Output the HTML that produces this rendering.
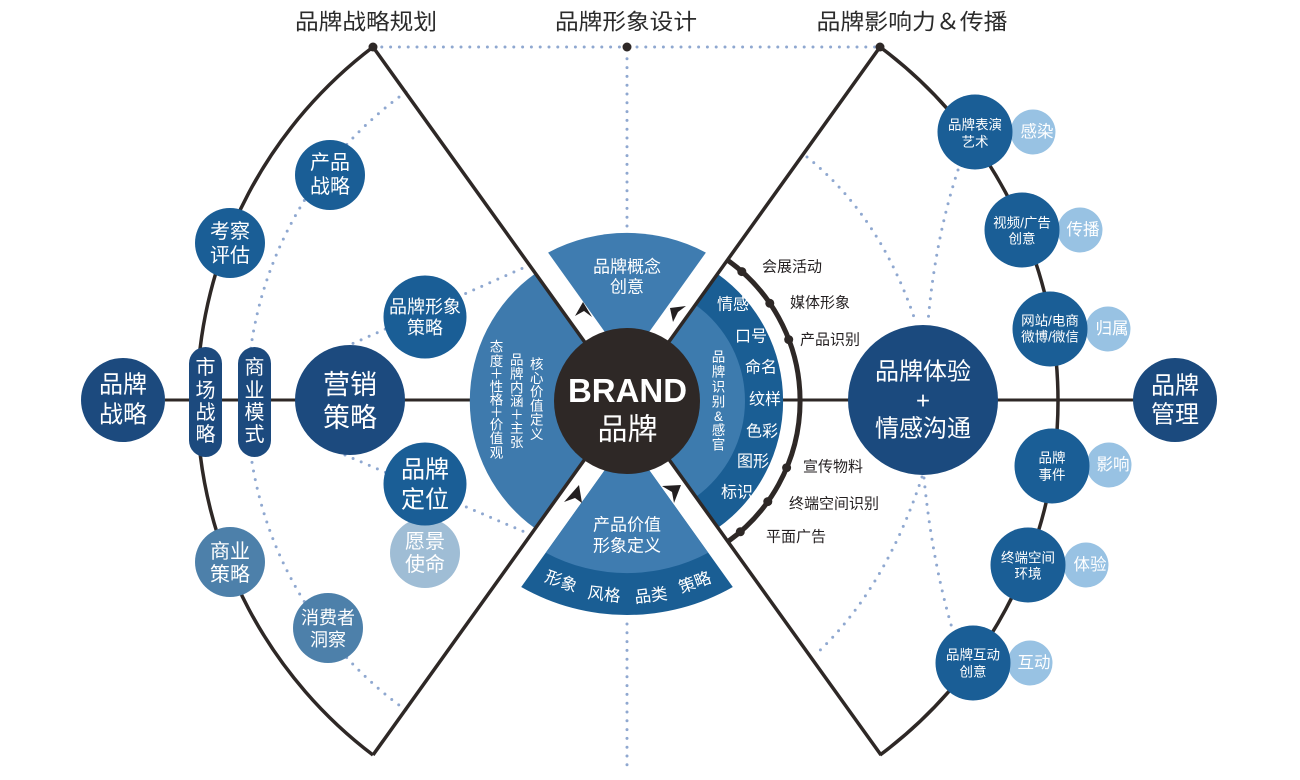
<!DOCTYPE html>
<html><head><meta charset="utf-8"><style>
html,body{margin:0;padding:0;background:#fff;}
svg{display:block;}
text{font-family:"Liberation Sans","Noto Sans CJK SC",sans-serif;}
</style></head><body>
<svg width="1300" height="780" viewBox="0 0 1300 780" xmlns="http://www.w3.org/2000/svg">
<rect width="1300" height="780" fill="#fff"/>

<!-- dotted lines -->
<g fill="none" stroke="#8fa8d0" stroke-width="3" stroke-dasharray="0 8.8" stroke-linecap="round">
  <path d="M373,47 L880,47"/>
  <path d="M627,50 L627,232"/>
  <path d="M627,624 L627,772"/>
  <path d="M406,92 A380,380 0 0 0 410,713"/>
  <path d="M345,347 L523,268"/>
  <path d="M345,455 L527,533"/>
  <path d="M807,157 Q880,216 915,320"/>
  <path d="M958,170 Q935,240 928,322"/>
  <path d="M922,477 Q885,590 815,655"/>
  <path d="M924,478 Q932,560 952,628"/>
</g>

<!-- solid outer arcs & axis -->
<g fill="none" stroke="#2e2826" stroke-width="3.5">
  <path d="M373,47 A444,444 0 0 0 373,755"/>
  <path d="M880,47 A441,441 0 0 1 880,755"/>
  <path d="M165,400 L1134,400" stroke-width="3"/>
</g>

<!-- wedges -->
<path d="M627,401 L535.6,528.8 A157,157 0 0 1 535.6,273.2 Z" fill="#3e7aad"/>
<path d="M627,401 L717.7,274 A156,156 0 0 1 717.7,528 Z" fill="#1a5e94"/>
<path d="M627,401 L695.6,305 A118,118 0 0 1 695.6,497 Z" fill="#3d7bae"/>
<path d="M627,363 L548.1,252.6 A168,168 0 0 1 705.9,252.6 Z" fill="#3f7cb0"/>
<path d="M627,439 L521.2,587 A214,214 0 0 0 732.8,587 Z" fill="#1a5e94"/>
<path d="M627,439 L545.8,552.7 A172,172 0 0 0 708.2,552.7 Z" fill="#3f7cb0"/>

<!-- X lines -->
<g stroke="#2e2826" stroke-width="3.5">
  <line x1="373" y1="47" x2="881" y2="755"/>
  <line x1="880" y1="47" x2="373" y2="755"/>
</g>

<!-- ring -->
<path d="M727.6,260.2 A173,173 0 0 1 727.6,541.8" fill="none" stroke="#2e2826" stroke-width="5"/>
<g fill="#2e2826">
  <circle cx="373" cy="47" r="4.5"/>
  <circle cx="627" cy="47" r="4.5"/>
  <circle cx="880" cy="47" r="4.5"/>
  <circle cx="741.8" cy="271.6" r="4.5"/>
  <circle cx="769.8" cy="303.3" r="4.5"/>
  <circle cx="788.7" cy="339.6" r="4.5"/>
  <circle cx="786.6" cy="467.7" r="4.5"/>
  <circle cx="767.8" cy="501.6" r="4.5"/>
  <circle cx="740.3" cy="531.8" r="4.5"/>
</g>

<!-- center circle -->
<circle cx="627" cy="401" r="73" fill="#2e2826"/>

<!-- arrows -->
<g fill="#231f20">
  <polygon points="575,316 583,302 592,317 584,311"/>
  <polygon points="670,308 686,306 678,312 673,322"/>
  <polygon points="579,485 582,503 575,498 564,502"/>
  <polygon points="662,486 681,485 674,503 672,492"/>
</g>

<!-- left nodes -->
<circle cx="123" cy="400" r="42" fill="#1c4a7e"/>
<rect x="189" y="347" width="33" height="110" rx="16.5" fill="#1c4a7e"/>
<rect x="238" y="347" width="33" height="110" rx="16.5" fill="#1c4a7e"/>
<circle cx="350" cy="400" r="55" fill="#1c4a7e"/>
<circle cx="425" cy="553" r="35" fill="#9fbdd5"/>
<circle cx="425" cy="317" r="41.5" fill="#1a5e96"/>
<circle cx="425" cy="484" r="41.5" fill="#1a5e96"/>
<circle cx="330" cy="175" r="35" fill="#1a5e96"/>
<circle cx="230" cy="243" r="35" fill="#1a5e96"/>
<circle cx="230" cy="562" r="35" fill="#4d80aa"/>
<circle cx="328" cy="628" r="35" fill="#4d80aa"/>

<!-- right nodes -->
<circle cx="923" cy="400" r="75" fill="#1b4a7e"/>
<circle cx="1175" cy="400" r="42" fill="#1b4a7e"/>
<g fill="#98c2e3">
  <circle cx="1033" cy="132" r="22.5"/>
  <circle cx="1080" cy="230" r="22.5"/>
  <circle cx="1108" cy="329" r="22.5"/>
  <circle cx="1109" cy="465" r="22.5"/>
  <circle cx="1086" cy="565" r="22.5"/>
  <circle cx="1030" cy="663" r="22.5"/>
</g>
<g fill="#1a5e96">
  <circle cx="975" cy="132" r="37.5"/>
  <circle cx="1022" cy="230" r="37.5"/>
  <circle cx="1050" cy="329" r="37.5"/>
  <circle cx="1052" cy="466" r="37.5"/>
  <circle cx="1028" cy="565" r="37.5"/>
  <circle cx="973" cy="663" r="37.5"/>
</g>

<!-- top labels -->
<g fill="#2b2b2b" font-size="22" text-anchor="middle" dominant-baseline="central">
  <text x="366" y="22" textLength="142" lengthAdjust="spacingAndGlyphs">品牌战略规划</text>
  <text x="626" y="22" textLength="142" lengthAdjust="spacingAndGlyphs">品牌形象设计</text>
  <text x="912" y="22" textLength="191" lengthAdjust="spacingAndGlyphs">品牌影响力＆传播</text>
</g>

<!-- ring labels -->
<g fill="#231f20" font-size="15" dominant-baseline="central">
  <text x="762" y="267">会展活动</text>
  <text x="790" y="303">媒体形象</text>
  <text x="800" y="340">产品识别</text>
  <text x="803" y="467">宣传物料</text>
  <text x="789" y="504">终端空间识别</text>
  <text x="766" y="537">平面广告</text>
</g>

<!-- center texts -->
<text x="627.5" y="402" fill="#fff" font-size="33" font-weight="bold" text-anchor="middle" textLength="119" lengthAdjust="spacingAndGlyphs">BRAND</text>
<text x="627.5" y="430" fill="#fff" font-size="30" text-anchor="middle" dominant-baseline="central">品牌</text>

<g fill="#fff" font-size="17" text-anchor="middle" dominant-baseline="central">
  <text x="627" y="267">品牌概念</text>
  <text x="627" y="287">创意</text>
  <text x="627" y="525">产品价值</text>
  <text x="627" y="546">形象定义</text>
</g>

<!-- band texts -->
<g fill="#fff" font-size="16.5" text-anchor="middle" dominant-baseline="central">
  <text transform="translate(561,582) rotate(20)">形象</text>
  <text transform="translate(604,595) rotate(7)">风格</text>
  <text transform="translate(651,596) rotate(-7)">品类</text>
  <text transform="translate(695,583) rotate(-20)">策略</text>
</g>

<!-- right wedge labels -->
<g fill="#fff" font-size="16" text-anchor="middle" dominant-baseline="central">
  <text x="733" y="305">情感</text>
  <text x="751" y="337">口号</text>
  <text x="761" y="368">命名</text>
  <text x="765" y="400">纹样</text>
  <text x="762" y="432">色彩</text>
  <text x="753" y="462">图形</text>
  <text x="737" y="493">标识</text>
</g>

<!-- vertical columns -->
<g fill="#fff" font-size="13.5" text-anchor="middle" dominant-baseline="central">
  <text x="718.5" y="357">品</text><text x="718.5" y="372">牌</text><text x="718.5" y="387">识</text><text x="718.5" y="402">别</text><text x="718.5" y="416.5">&amp;</text><text x="718.5" y="430.5">感</text><text x="718.5" y="445">官</text>

  <text x="496.5" y="347">态</text><text x="496.5" y="361.5">度</text><text x="496.5" y="374">＋</text><text x="496.5" y="387">性</text><text x="496.5" y="400">格</text><text x="496.5" y="412.5">＋</text><text x="496.5" y="425">价</text><text x="496.5" y="438.5">值</text><text x="496.5" y="453">观</text>

  <text x="516.7" y="360">品</text><text x="516.7" y="374">牌</text><text x="516.7" y="388">内</text><text x="516.7" y="401.5">涵</text><text x="516.7" y="415">＋</text><text x="516.7" y="428.5">主</text><text x="516.7" y="442.5">张</text>

  <text x="536.7" y="364.5">核</text><text x="536.7" y="378.5">心</text><text x="536.7" y="392">价</text><text x="536.7" y="406">值</text><text x="536.7" y="420">定</text><text x="536.7" y="434.5">义</text>
</g>

<!-- pill texts -->
<g fill="#fff" font-size="20" text-anchor="middle" dominant-baseline="central">
  <text x="205.5" y="368">市</text><text x="205.5" y="391">场</text><text x="205.5" y="413">战</text><text x="205.5" y="435">略</text>
  <text x="254.5" y="368">商</text><text x="254.5" y="391">业</text><text x="254.5" y="413">模</text><text x="254.5" y="435">式</text>
</g>

<!-- left node texts -->
<g fill="#fff" text-anchor="middle" dominant-baseline="central">
  <text x="123" y="385" font-size="24">品牌</text>
  <text x="123" y="415" font-size="24">战略</text>
  <text x="350" y="385" font-size="27">营销</text>
  <text x="350" y="418" font-size="27">策略</text>
  <text x="425" y="307" font-size="18">品牌形象</text>
  <text x="425" y="328" font-size="18">策略</text>
  <text x="425" y="470" font-size="24">品牌</text>
  <text x="425" y="500" font-size="24">定位</text>
  <text x="425" y="542" font-size="20">愿景</text>
  <text x="425" y="565" font-size="20">使命</text>
  <text x="330" y="163" font-size="20">产品</text>
  <text x="330" y="187" font-size="20">战略</text>
  <text x="230" y="232" font-size="20">考察</text>
  <text x="230" y="256" font-size="20">评估</text>
  <text x="230" y="552" font-size="20">商业</text>
  <text x="230" y="575" font-size="20">策略</text>
  <text x="328" y="618" font-size="18">消费者</text>
  <text x="328" y="640" font-size="18">洞察</text>
</g>

<!-- right node texts -->
<g fill="#fff" text-anchor="middle" dominant-baseline="central">
  <text x="923" y="372" font-size="24">品牌体验</text>
  <text x="923" y="401" font-size="24">+</text>
  <text x="923" y="429" font-size="24">情感沟通</text>
  <text x="1175" y="386" font-size="24">品牌</text>
  <text x="1175" y="415" font-size="24">管理</text>

  <text x="975" y="125" font-size="13.5">品牌表演</text>
  <text x="975" y="142" font-size="13.5">艺术</text>
  <text x="1022" y="223" font-size="13.5">视频/广告</text>
  <text x="1022" y="239" font-size="13.5">创意</text>
  <text x="1050" y="321" font-size="13.5">网站/电商</text>
  <text x="1050" y="337" font-size="13.5">微博/微信</text>
  <text x="1052" y="458" font-size="13.5">品牌</text>
  <text x="1052" y="475" font-size="13.5">事件</text>
  <text x="1028" y="558" font-size="13.5">终端空间</text>
  <text x="1028" y="574" font-size="13.5">环境</text>
  <text x="973" y="655" font-size="13.5">品牌互动</text>
  <text x="973" y="672" font-size="13.5">创意</text>

  <text x="1037" y="132" font-size="16.5">感染</text>
  <text x="1083" y="230" font-size="16.5">传播</text>
  <text x="1112" y="329" font-size="16.5">归属</text>
  <text x="1113" y="465" font-size="16.5">影响</text>
  <text x="1090" y="565" font-size="16.5">体验</text>
  <text x="1034" y="663" font-size="16.5">互动</text>
</g>
</svg>
</body></html>
